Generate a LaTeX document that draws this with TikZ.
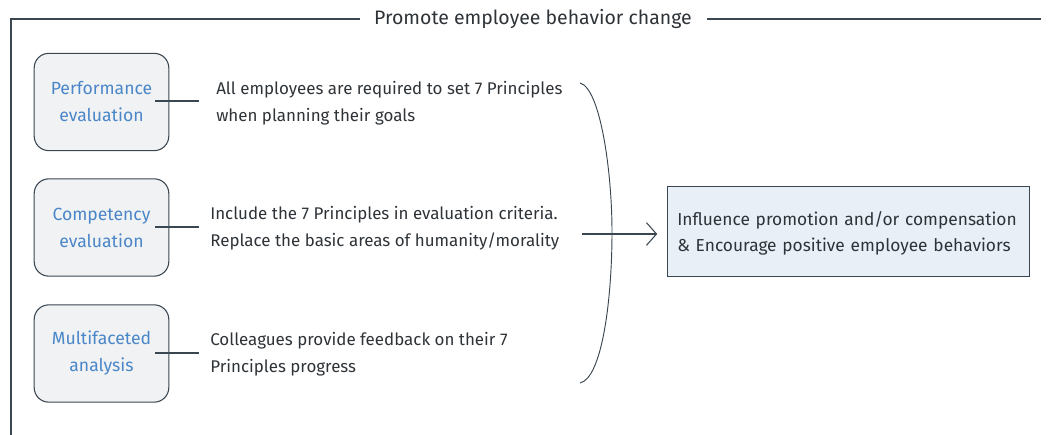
\documentclass[tikz,border=0pt]{standalone}
\usepackage{fontspec}
\setmainfont{Fira Sans}
\usetikzlibrary{arrows.meta}
\definecolor{linec}{HTML}{3A4650}
\definecolor{txt}{HTML}{2E3338}
\definecolor{bluet}{HTML}{4A86C8}
\definecolor{boxf}{HTML}{F0F2F4}
\definecolor{resf}{HTML}{E8EFF7}
\tikzset{
  px/.style={x=0.75pt,y=-0.75pt},
  lbox/.style={draw=linec, line width=0.8pt, fill=boxf, rounded corners=11pt,
    minimum width=101pt, minimum height=73pt, align=center, text=bluet,
    font=\fontsize{13.2}{20.25}\selectfont, inner sep=0pt},
  desc/.style={anchor=west, align=left, text=txt, inner sep=0pt,
    font=\fontsize{12.7}{20.25}\selectfont},
  conn/.style={draw=linec, line width=0.8pt},
}
\begin{document}
\begin{tikzpicture}[px]
\useasboundingbox (0,0) rectangle (1054,435);
% frame
\node[text=txt, font=\fontsize{14.6}{16}\selectfont, inner sep=0pt] (title) at (533,19) {Promote employee behavior change};
\coordinate (fl) at (11,19);
\coordinate (fb) at (11,435);
\coordinate (fr) at (1041,19);
\draw[conn] (title.west) ++(-14,0) -- (fl) -- (fb);
\draw[conn] (title.east) ++(15,0) -- (fr);
% left boxes
\node[lbox] (b1) at (101.5,102) {Performance\\evaluation};
\node[lbox] (b2) at (101.5,227.5) {Competency\\evaluation};
\node[lbox] (b3) at (101.5,353.5) {Multifaceted\\analysis};
% descriptions
\node[desc] (t1) at (216,103) {All employees are required to set 7 Principles\\when planning their goals};
\node[desc] (t2) at (210,228) {Include the 7 Principles in evaluation criteria.\\Replace the basic areas of humanity/morality};
\node[desc] (t3) at (210,354) {Colleagues provide feedback on their 7\\Principles progress};
\coordinate (c1) at (199,101);
\coordinate (c2) at (199,227);
\coordinate (c3) at (199,353);
\draw[conn] (b1.east) ++(-14,-1) -- (c1);
\draw[conn] (b2.east) ++(-14,-0.5) -- (c2);
\draw[conn] (b3.east) ++(-14,-0.5) -- (c3);
% bracket
\coordinate (bt) at (580,83);
\coordinate (bm) at (612,232);
\coordinate (bb) at (580,383);
\draw[conn, line width=0.7pt] (bt) .. controls (600,88) and (612,170) .. (bm) .. controls (612,300) and (602,378) .. (bb);
% result
\node[draw=linec, line width=0.7pt, fill=resf, minimum width=271.5pt, minimum height=67.5pt,
  inner sep=0pt] (res) at (848,231) {};
\node[text width=256pt, inner xsep=7.75pt, inner ysep=0pt, align=left, text=txt,
  font=\fontsize{13}{20}\selectfont] (restext) at (848,233.5) {Influence promotion and/or compensation\\\& Encourage positive employee behaviors};
\coordinate (as) at (582,234);
\draw[conn, -{Straight Barb[length=7.5pt, width=17pt, line width=0.8pt]}, shorten >=7pt] (as) -- (res.west |- as);
\end{tikzpicture}
\end{document}
